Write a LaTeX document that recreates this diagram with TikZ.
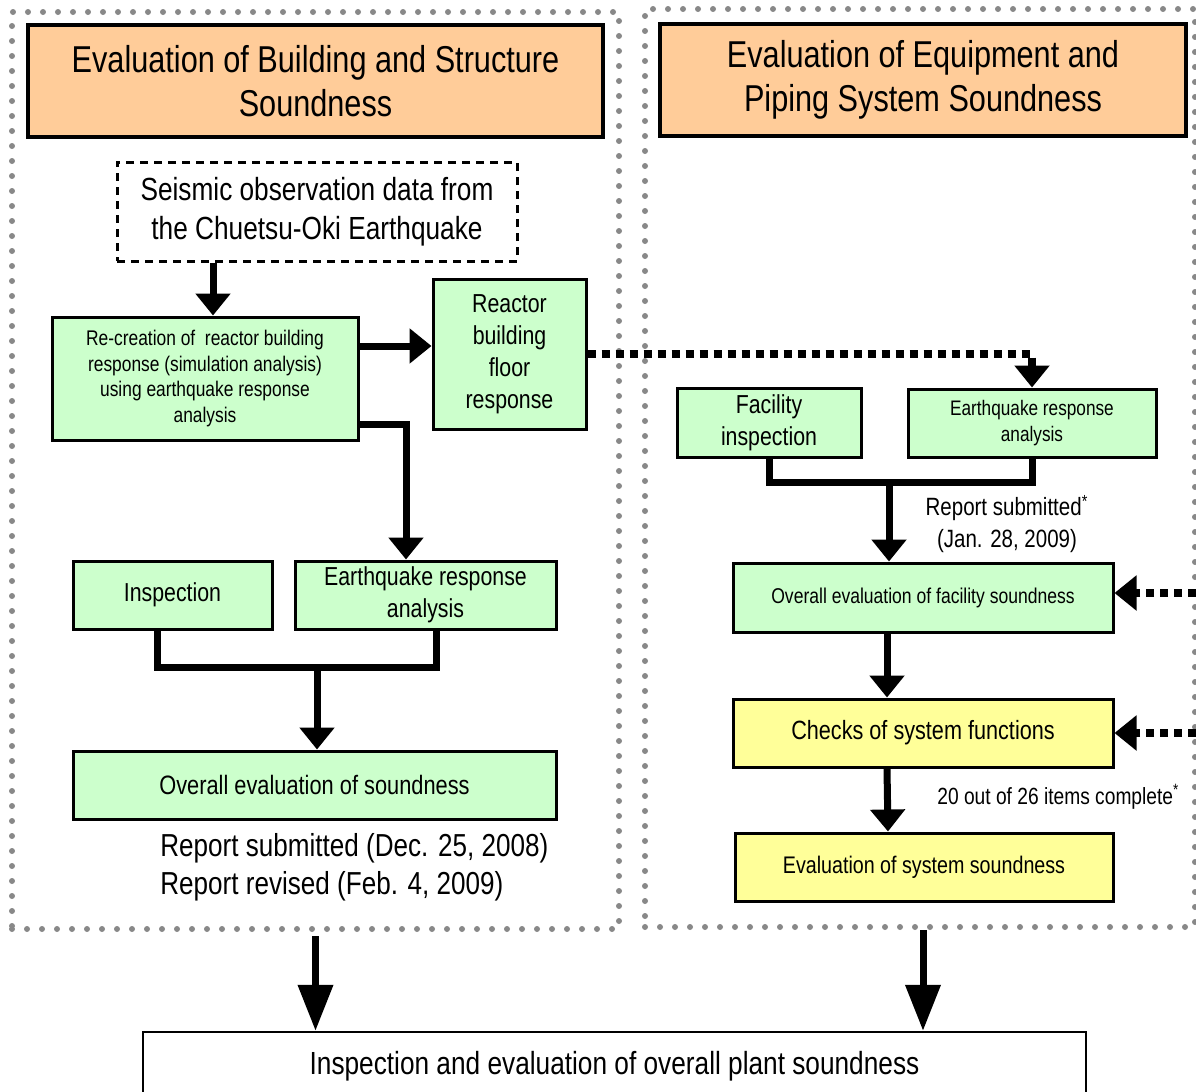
\documentclass[tikz,border=0pt]{standalone}
\usepackage{fontspec}
\setmainfont{Liberation Sans}[FakeStretch=0.82]
\usepackage{tikz}
\usetikzlibrary{arrows.meta}

\definecolor{headorange}{HTML}{FFCC99}
\definecolor{boxgreen}{HTML}{CCFFCC}
\definecolor{boxyellow}{HTML}{FFFF99}
\definecolor{dotgray}{HTML}{888888}

\tikzset{
  gbox/.style={draw, line width=1.5pt, fill=boxgreen, align=center, inner sep=0pt},
  ybox/.style={gbox, fill=boxyellow},
  head/.style={draw, line width=2pt, fill=headorange, align=center, inner sep=0pt,
    font=\fontsize{18.7}{22}\selectfont},
  frame/.style={draw=dotgray, line width=3pt, dash pattern=on 0pt off 7.5pt, line cap=round},
  bus/.style={line width=3.5pt},
  arr/.style={line width=3.5pt, -{Triangle[width=17pt,length=11pt]}},
  longarr/.style={line width=3.5pt, -{Triangle[width=17pt,length=23pt]}},
  dotarr/.style={line width=4pt, dash pattern=on 4pt off 3pt, -{Triangle[width=17pt,length=11pt]}}
}

\begin{document}
\begin{tikzpicture}[x=0.5pt, y=-0.5pt]
\useasboundingbox (0,0) rectangle (1196,1092);

% dotted frames
\node[frame, minimum width=303.5pt, minimum height=458.5pt] (lframe) at (315.5,470.5) {};
\node[frame, minimum width=275pt, minimum height=459pt] (rframe) at (920,468) {};

% headers
\node[head, minimum width=287.5pt, minimum height=56pt] (lhead) at (315.5,81)
  {Evaluation of Building and Structure\\Soundness};
\node[head, minimum width=263pt, minimum height=56pt] (rhead) at (923,80)
  {Evaluation of Equipment and\\Piping System Soundness};

% building side
\node[draw, line width=1.5pt, dash pattern=on 4pt off 3pt, align=center, inner sep=0pt,
  minimum width=200pt, minimum height=49.5pt, font=\fontsize{16}{19.5}\selectfont]
  (seis) at (317,211.5) {Seismic observation data from\\the Chuetsu-Oki Earthquake};
\node[gbox, minimum width=153pt, minimum height=61.5pt, font=\fontsize{10.6}{12.8}\selectfont]
  (recr) at (205,378.5) {Re-creation of\ \ reactor building\\response (simulation analysis)\\using earthquake response\\analysis};
\node[gbox, minimum width=76.5pt, minimum height=75pt, font=\fontsize{13}{16}\selectfont]
  (reactor) at (509.5,354) {Reactor\\building\\floor\\response};
\node[gbox, minimum width=99.5pt, minimum height=34pt, font=\fontsize{13}{16}\selectfont]
  (insp) at (172.5,595) {Inspection};
\node[gbox, minimum width=130.5pt, minimum height=34pt, font=\fontsize{13}{16}\selectfont]
  (eqL) at (425.5,595) {Earthquake response\\analysis};
\node[gbox, minimum width=241.5pt, minimum height=34pt, font=\fontsize{13.3}{16}\selectfont]
  (ovall) at (314.5,785) {Overall evaluation of soundness};
\node[anchor=west, align=left, inner sep=0pt, font=\fontsize{15.9}{19}\selectfont]
  (repL) at (160,867) {Report submitted (Dec. 25, 2008)\\Report revised (Feb. 4, 2009)};

\draw[arr] (seis.south -| 213,0) -- (recr.north -| 213,0);
\draw[arr] (recr.east |- 0,346) -- (reactor.west |- 0,346);
\draw[arr] (recr.east |- 0,424) -| (eqL.north -| 406,0);
\draw[bus] (insp.south -| 157,0) -- (157,667) -| (eqL.south -| 436,0);
\coordinate (busL) at (317,667);
\draw[arr] (busL) -- (ovall.north -| busL);

% equipment side
\node[gbox, minimum width=92pt, minimum height=34.5pt, font=\fontsize{13}{16}\selectfont]
  (fac) at (769,422.5) {Facility\\inspection};
\node[gbox, minimum width=124pt, minimum height=34pt, font=\fontsize{10.5}{13}\selectfont]
  (eqR) at (1032,423) {Earthquake response\\analysis};
\node[align=center, inner sep=0pt, font=\fontsize{12.5}{16}\selectfont]
  (repR) at (1007,524) {Report submitted\textsuperscript{*}\\(Jan. 28, 2009)};
\node[gbox, minimum width=190pt, minimum height=34.5pt, font=\fontsize{10.7}{13}\selectfont]
  (ovfac) at (923,597.5) {Overall evaluation of facility soundness};
\node[ybox, minimum width=190pt, minimum height=34pt, font=\fontsize{13.2}{16}\selectfont]
  (checks) at (923,733) {Checks of system functions};
\node[anchor=west, inner sep=0pt, font=\fontsize{11.7}{13}\selectfont]
  (items) at (937,797) {20 out of 26 items complete\textsuperscript{*}};
\node[ybox, minimum width=189pt, minimum height=34pt, font=\fontsize{12}{15}\selectfont]
  (evsys) at (924,867) {Evaluation of system soundness};

\draw[dotarr] (reactor.east) -| (eqR.north);
\draw[bus] (fac.south) -- (769,482) -| (eqR.south);
\coordinate (busR) at (889,482);
\draw[arr] (busR) -- (ovfac.north -| busR);
\coordinate (in1) at (1196,593);
\coordinate (in2) at (1196,733);
\draw[dotarr] (in1) -- (ovfac.east |- in1);
\draw[dotarr] (in2) -- (checks.east);
\draw[arr] ([xshift=-18pt]ovfac.south) -- ([xshift=-18pt]checks.north);
\draw[arr] ([xshift=-18pt]checks.south) -- ([xshift=-18pt]evsys.north);

% plant
\node[draw, line width=1.2pt, fill=white, inner sep=0pt, minimum width=471.5pt, minimum height=34pt,
  font=\fontsize{16}{19}\selectfont] (plant) at (614.5,1066) {Inspection and evaluation of overall plant soundness};
\draw[longarr] ([yshift=-2pt]lframe.south) -- (plant.north -| lframe.south);
\draw[longarr] (rframe.south -| 923,0) -- (plant.north -| 923,0);

\end{tikzpicture}
\end{document}
